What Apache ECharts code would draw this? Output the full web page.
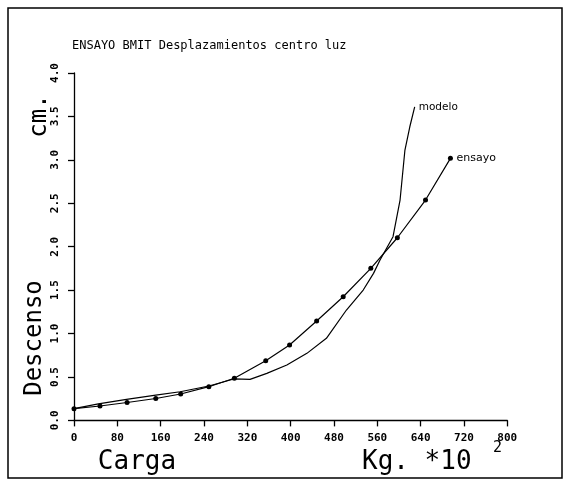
<!DOCTYPE html>
<html><head><meta charset="utf-8">
<script src="https://cdn.jsdelivr.net/npm/echarts@6/dist/echarts.min.js"></script>
<style>html,body{margin:0;padding:0;background:#fff}#c{width:565px;height:485px}</style>
</head><body><div id="c"></div>
<script>
var titleText = 'ENSAYO BMIT Desplazamientos centro luz';
var xTicks = [0, 80, 160, 240, 320, 400, 480, 560, 640, 720, 800];
var yTicks = [0.0, 0.5, 1.0, 1.5, 2.0, 2.5, 3.0, 3.5, 4.0];
var ensayoCarga = [0, 48, 98, 151, 197, 249, 296, 354, 398, 448, 497, 548, 597, 649, 695];
var ensayoDescenso = [0.135, 0.166, 0.206, 0.252, 0.304, 0.388, 0.485, 0.687, 0.868, 1.144, 1.424, 1.751, 2.103, 2.537, 3.017];
var modeloCarga = [0, 45, 97, 151, 196, 249, 295, 325, 356, 393, 430, 466, 503, 534, 553, 565, 589, 602, 611, 620, 629];
var modeloDescenso = [0.135, 0.19, 0.243, 0.292, 0.33, 0.396, 0.477, 0.473, 0.542, 0.638, 0.772, 0.945, 1.271, 1.501, 1.693, 1.847, 2.115, 2.537, 3.113, 3.381, 3.611];
var seriesNames = ['modelo', 'ensayo'];

function pairs(xs, ys){ return xs.map(function(x,i){ return [x, ys[i]]; }); }
var mono = '"DejaVu Sans Mono", monospace';
var chart = echarts.init(document.getElementById('c'), null, {renderer:'canvas'});
chart.setOption({
  animation: false,
  backgroundColor: '#fff',
  grid: {left: 74, right: 57.7, top: 73, bottom: 64.6, containLabel: false},
  xAxis: {
    type: 'value', min: xTicks[0], max: xTicks[xTicks.length-1], interval: 80,
    axisLine: {lineStyle: {color: '#000', width: 1.3}},
    axisTick: {length: 6, lineStyle: {color: '#000', width: 1.3}},
    axisLabel: {color: '#000', fontFamily: mono, fontSize: 11, fontWeight: 'bold', margin: 12},
    splitLine: {show: false}
  },
  yAxis: {
    type: 'value', min: yTicks[0], max: yTicks[yTicks.length-1], interval: 0.5,
    axisLine: {show: true, lineStyle: {color: '#000', width: 1.3}},
    axisTick: {show: true, length: 6, lineStyle: {color: '#000', width: 1.3}},
    axisLabel: {color: '#000', fontFamily: mono, fontSize: 11, fontWeight: 'bold', rotate: 90, margin: 13,
      formatter: function(v){ return v.toFixed(1); }},
    splitLine: {show: false}
  },
  graphic: [
    {type: 'rect', shape: {x: 8, y: 8, width: 554, height: 470}, style: {fill: null, stroke: '#000', lineWidth: 1.5}, silent: true},
    {type: 'text', x: 72, y: 46, style: {text: titleText, font: '12px ' + mono, fill: '#000', textAlign: 'left', textVerticalAlign: 'middle'}},
    {type: 'text', x: 35, y: 338, rotation: Math.PI/2, style: {text: 'Descenso', font: '24px ' + mono, fill: '#000', textAlign: 'center', textVerticalAlign: 'middle'}},
    {type: 'text', x: 40, y: 116, rotation: Math.PI/2, style: {text: 'cm.', font: '24px ' + mono, fill: '#000', textAlign: 'center', textVerticalAlign: 'middle'}},
    {type: 'text', x: 137, y: 462, style: {text: 'Carga', font: '26px ' + mono, fill: '#000', textAlign: 'center', textVerticalAlign: 'middle'}},
    {type: 'text', x: 362, y: 462, style: {text: 'Kg. *10', font: '26px ' + mono, fill: '#000', textAlign: 'left', textVerticalAlign: 'middle'}},
    {type: 'text', x: 493, y: 448, style: {text: '2', font: '15px ' + mono, fill: '#000', textAlign: 'left', textVerticalAlign: 'middle'}}
  ],
  series: [
    {name: seriesNames[0], type: 'line', data: pairs(modeloCarga, modeloDescenso), showSymbol: false, symbol: 'none',
      lineStyle: {color: '#000', width: 1.2}, itemStyle: {color: '#000'},
      endLabel: {show: true, formatter: seriesNames[0], color: '#000', fontFamily: '"DejaVu Sans", sans-serif', fontSize: 10.5, distance: 4}},
    {name: seriesNames[1], type: 'line', data: pairs(ensayoCarga, ensayoDescenso), symbol: 'circle', symbolSize: 5,
      lineStyle: {color: '#000', width: 1.2}, itemStyle: {color: '#000'},
      endLabel: {show: true, formatter: seriesNames[1], color: '#000', fontFamily: '"DejaVu Sans", sans-serif', fontSize: 11, distance: 6}}
  ]
});
</script></body></html>
